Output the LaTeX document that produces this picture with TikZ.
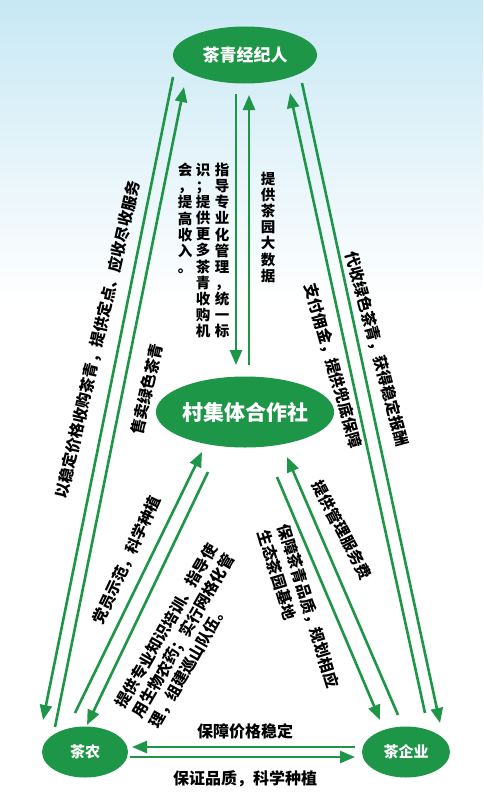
\documentclass[tikz,border=0pt]{standalone}
\usepackage{fontspec}
\setmainfont{Noto Sans CJK SC}
\usetikzlibrary{arrows.meta,shapes.geometric,calc}
\definecolor{tg}{RGB}{30,150,72}
\definecolor{skyb}{RGB}{200,232,244}
\begin{document}
\begin{tikzpicture}[x=1pt,y=-1pt,
  conn/.style={draw=tg,line width=2.6pt,-{Triangle[length=15pt,width=12pt]}},
  plainconn/.style={draw=tg,line width=2.6pt},
  bubble/.style={ellipse,fill=tg,inner sep=0pt,text=white},
  lbl/.style={inner sep=0pt,font=\bfseries\fontsize{15.5}{15.5}\selectfont},
  vcol/.style={inner sep=0pt,anchor=north,align=center,font=\bfseries\fontsize{14.5}{16.1}\selectfont}]
\useasboundingbox (0,0) rectangle (483,800);
\fill[white] (0,0) rectangle (483,800);
\shade[top color=skyb,bottom color=white] (0,0) rectangle (483,300);
% nodes
\node[bubble,minimum width=144pt,minimum height=57pt,font=\bfseries\fontsize{17}{17}\selectfont] (top) at (245,55) {茶青经纪人};
\node[bubble,minimum width=174pt,minimum height=71pt,font=\bfseries\fontsize{21}{21}\selectfont] (coop) at (245,412) {村集体合作社};
\node[bubble,minimum width=86pt,minimum height=51pt,font=\bfseries\fontsize{15}{15}\selectfont] (farmer) at (85,752) {茶农};
\node[bubble,minimum width=88pt,minimum height=51pt,font=\bfseries\fontsize{15}{15}\selectfont] (firm) at (406,752) {茶企业};
% connectors
\draw[conn] ($(top)+(-72,22)$) -- ($(farmer)+(-42,-32)$);
\draw[conn] ($(farmer)+(-30,-25)$) -- ($(top)+(-61,32)$);
\draw[conn] ($(top)+(-9,39)$) -- ($(coop)+(-9,-47)$);
\draw[conn] ($(coop)+(4,-47)$) -- ($(top)+(4,40)$);
\draw[conn] ($(firm)+(19,-39)$) -- ($(top)+(45,38)$);
\draw[conn] ($(top)+(57,28)$) -- ($(firm)+(34,-29)$);
\draw[conn] ($(farmer)+(-10,-39)$) -- ($(coop)+(-43,40)$);
\draw[conn] ($(coop)+(-37,60)$) -- ($(farmer)+(2,-27)$);
\draw[conn] ($(firm)+(-8,-37)$) -- ($(coop)+(42,45)$);
\draw[conn] ($(coop)+(32,65)$) -- ($(firm)+(-26,-32)$);
\draw[conn] ($(firm)+(-51,-5)$) -- ($(farmer)+(47,-5)$);
\draw[conn] ($(farmer)+(45,5)$) -- ($(firm)+(-51,5)$);
% labels
\node[lbl,rotate=77] (t1) at (98,340) {以稳定价格收购茶青，提供定点、应收尽收服务};
\node[lbl,rotate=77] (t2) at (147,389) {售卖绿色茶青};
\node[lbl,rotate=-75] (t3) at (377,349) {代收绿色茶青，获得稳定报酬};
\node[lbl,rotate=-74] (t4) at (333,366) {支付佣金，提供兜底保障};
\node[lbl,rotate=65] (t5) at (127,560) {党员示范，科学种植};
\node[lbl,rotate=-62] (t6) at (342,530) {提供管理服务费};
\node[lbl,rotate=60,anchor=north west,align=left,font=\bfseries\fontsize{15.5}{19.5}\selectfont] (t7) at (113,703) {提供专业知识培训、指导使\\用生物农药；实行网格化管\\理，组建巡山队伍。};
\node[lbl,rotate=-73,anchor=north west,align=left,font=\bfseries\fontsize{15.5}{21}\selectfont] (t8) at (291,522) {保障茶青品质，规划相应\\生态茶园基地};
\node[lbl,font=\bfseries\fontsize{16}{16}\selectfont] (t9) at (245,731) {保障价格稳定};
\node[lbl,font=\bfseries\fontsize{16}{16}\selectfont] (t10) at (245,779) {保证品质，科学种植};
% vertical texts
\node[vcol] (v0) at (268,172) {提\\供\\茶\\园\\大\\数\\据};
\node[vcol] (v1) at (222,163) {指\\导\\专\\业\\化\\管\\理\\，\\统\\一\\标};
\node[vcol] (v2) at (203,163) {识\\；\\提\\供\\更\\多\\茶\\青\\收\\购\\机};
\node[vcol] (v3) at (185,163) {会\\，\\提\\高\\收\\入\\。};
\end{tikzpicture}
\end{document}
